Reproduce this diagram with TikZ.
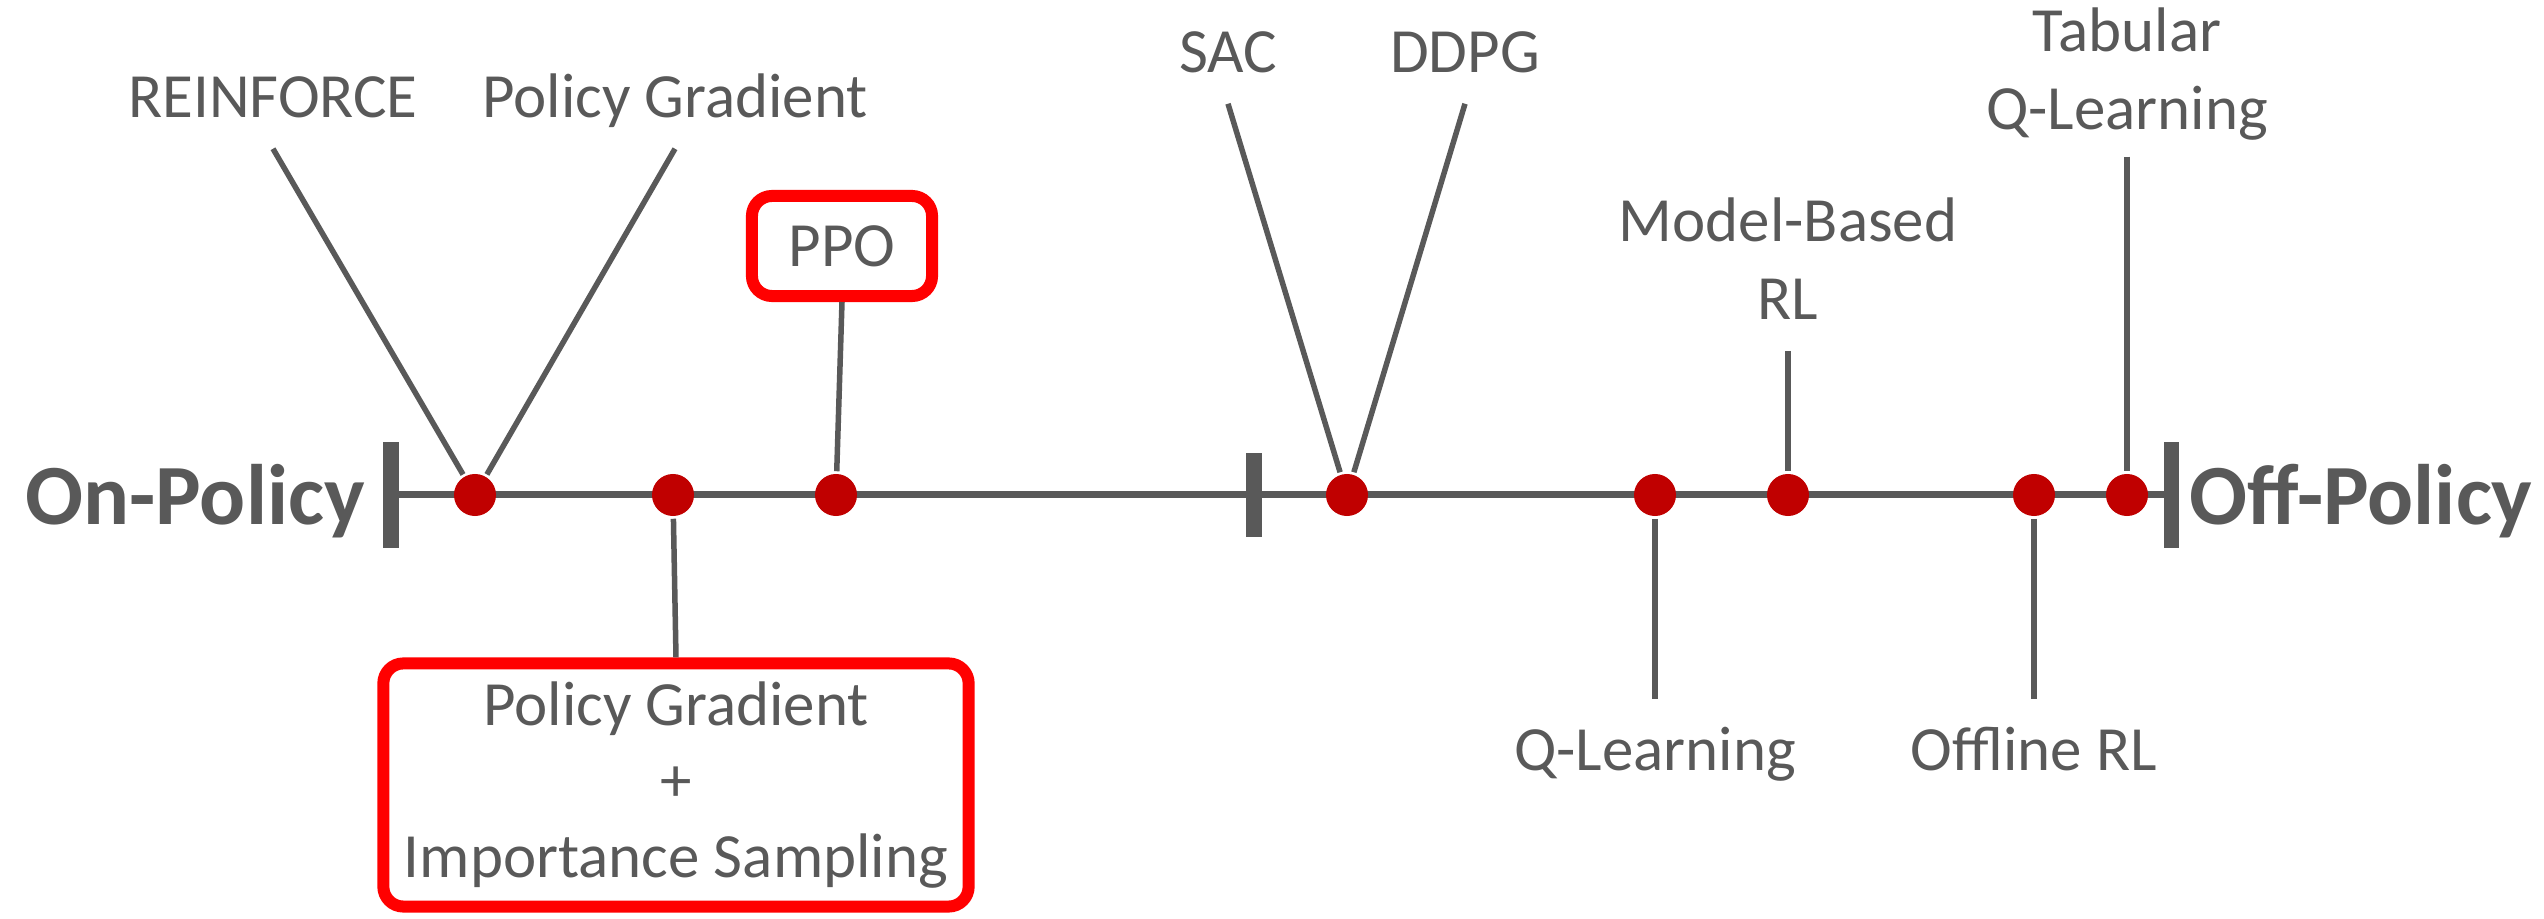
\documentclass[tikz,border=0pt]{standalone}
\usepackage{fontspec}
\setmainfont{Carlito}
\usepackage{xcolor}
\usepackage{tikz}
\usetikzlibrary{positioning}
\definecolor{greytext}{HTML}{595959}
\definecolor{dotred}{HTML}{C00000}
\definecolor{boxred}{HTML}{FF0000}

\begin{document}
\begin{tikzpicture}[x=0.01cm,y=-0.01cm,
	color=greytext,
	line width=0.055cm,
	dot/.style={circle,fill=dotred,draw=none,minimum size=0.42cm,inner sep=0pt},
	axtick/.style={rectangle,fill=greytext,draw=none,minimum width=0.15cm,minimum height=1.06cm,inner sep=0pt},
	lbl/.style={font=\fontsize{17.9}{22.2}\selectfont,align=center,text height=0.56cm,text depth=0.15cm,inner xsep=0.05cm,inner ysep=0.13cm},
	lblm/.style={font=\fontsize{17.9}{22.2}\selectfont,align=center,inner xsep=0.05cm,inner ysep=0.13cm},
	redbox/.style={draw=boxred,line width=0.12cm,rounded corners=0.2cm,fill=white,align=center,font=\fontsize{17.9}{21.6}\selectfont},
	side/.style={font=\fontsize{24.4}{28}\selectfont\bfseries,inner sep=0pt}]
	\useasboundingbox (0,0) rectangle (2544,919);

	% the axis
	\node[axtick] (ltick) at (391,495) {};
	\node[axtick] (rtick) at (2171,495) {};
	\draw[line width=0.07cm] (ltick.center) -- (rtick.center);
	\node[axtick,minimum width=0.16cm,minimum height=0.83cm] (mtick) at (1254,495) {};
	\node[side,anchor=base] (onpol) at (195,525) {On-Policy};
	\node[side,anchor=base] (offpol) at (2361,525) {Off-Policy};

	% methods on the axis
	\node[dot] (d1) at (475,495) {};
	\node[dot] (d2) at (673,495) {};
	\node[dot] (d3) at (836,495) {};
	\node[dot] (d4) at (1347,495) {};
	\node[dot] (d5) at (1655,495) {};
	\node[dot] (d6) at (1788,495) {};
	\node[dot] (d7) at (2034,495) {};
	\node[dot] (d8) at (2127,495) {};

	% labels above
	\node[lbl,anchor=base] (reinforce) at (273,118) {REINFORCE};
	\node[lbl,anchor=base] (pg) at (675,118) {Policy Gradient};
	\node[redbox,minimum width=1.8cm,minimum height=1.0cm] (ppo) at (842,246) {PPO};
	\node[lbl,anchor=base] (sac) at (1228,73) {SAC};
	\node[lbl,anchor=base] (ddpg) at (1465,73) {DDPG};
	\node[lblm,anchor=base,inner ysep=0.28cm] (mbrl) at (1788,320) {Model-Based\\RL};
	\node[lblm,anchor=base] (tabq) at (2127,130) {Tabular\\Q-Learning};

	% labels below
	\node[redbox,minimum width=5.85cm,minimum height=2.43cm] (pgis) at (676,785)
		{Policy Gradient\\+\\Importance Sampling};
	\node[lbl,anchor=base] (ql) at (1655,771) {Q-Learning};
	\node[lbl,anchor=base] (offrl) at (2034,771) {Offline RL};

	% connectors
	\draw (reinforce.south) -- (d1);
	\draw (pg.south) -- (d1);
	\draw (ppo.south) -- (d3);
	\draw (sac.south) -- (d4);
	\draw (ddpg.south) -- (d4);
	\draw (mbrl.south) -- (d6);
	\draw (tabq.south) -- (d8);
	\draw (d2) -- (pgis.north);
	\draw (d5) -- (ql.north);
	\draw (d7) -- (offrl.north);
\end{tikzpicture}
\end{document}
